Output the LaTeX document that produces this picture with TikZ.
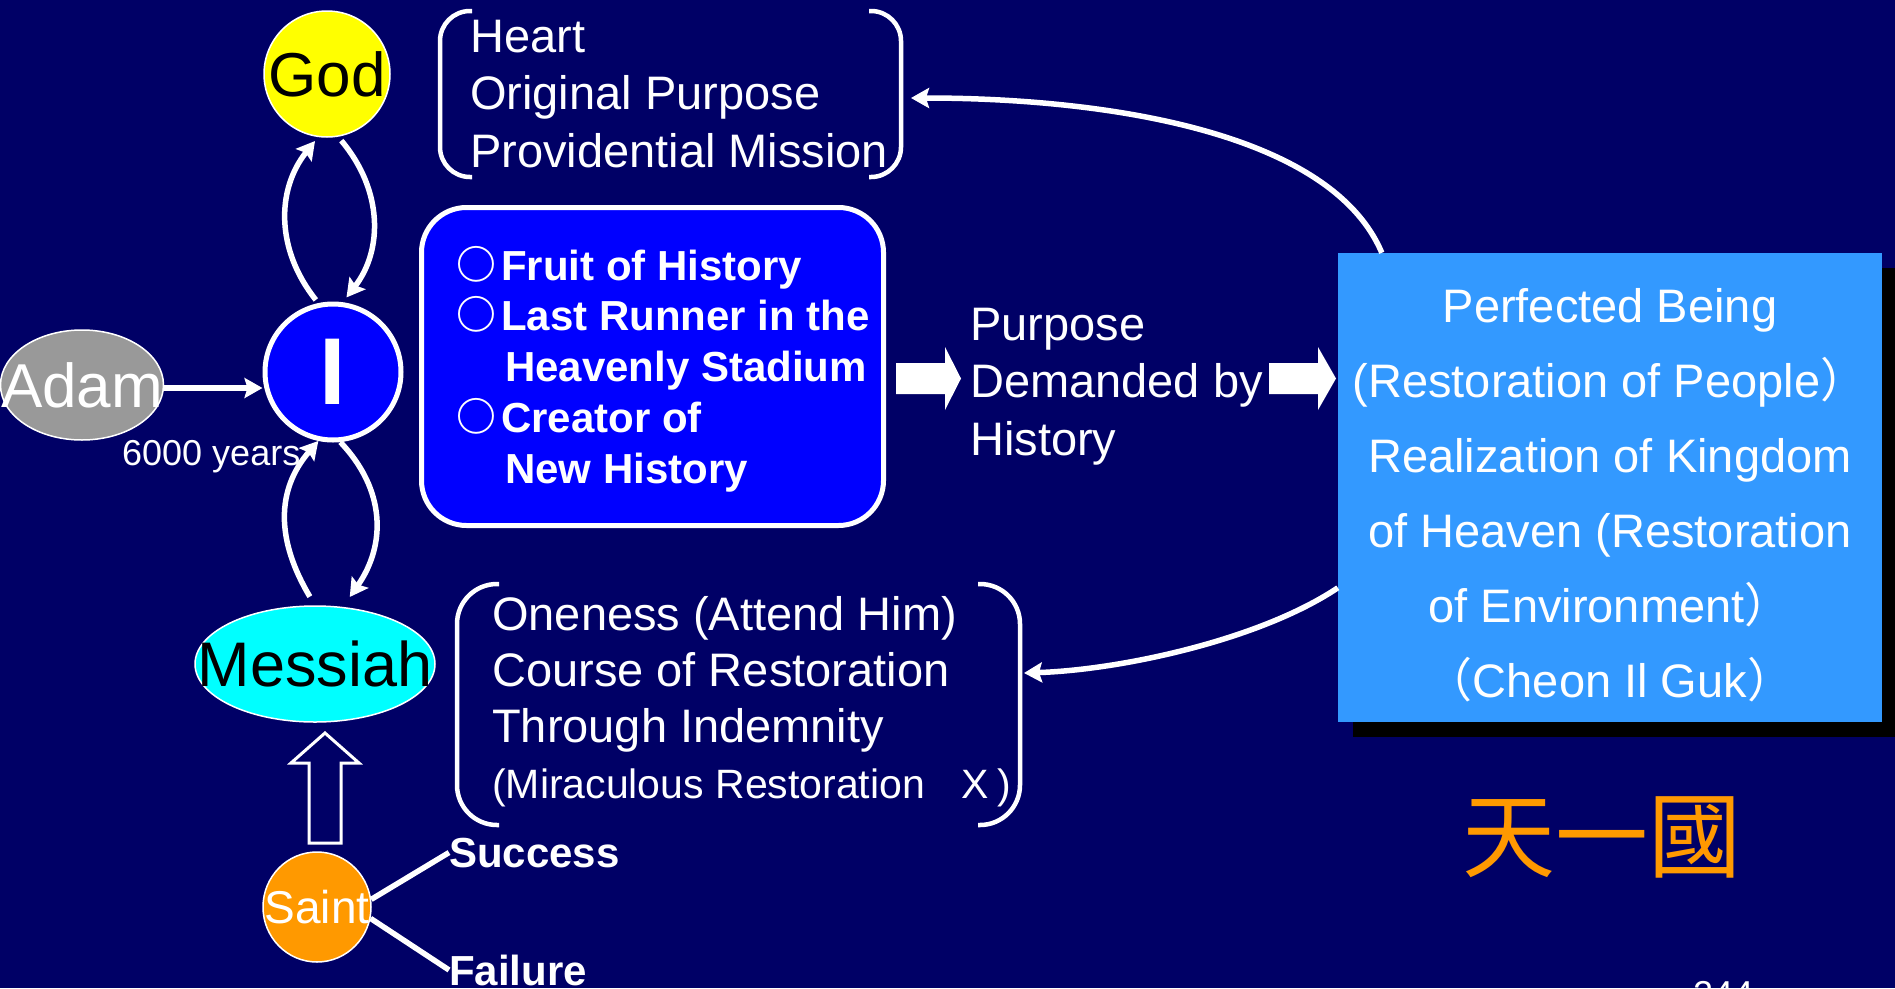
\documentclass[tikz,border=0pt]{standalone}
\usepackage{fontspec}
\setmainfont{Liberation Sans}
\newfontfamily\cjk{Noto Sans CJK TC}
\usetikzlibrary{arrows.meta,calc,shapes.geometric}
\definecolor{bg}{RGB}{0,0,102}
\definecolor{godyellow}{RGB}{255,255,0}
\definecolor{pureblue}{RGB}{0,0,255}
\definecolor{adamgray}{RGB}{153,153,153}
\definecolor{cyanfill}{RGB}{0,255,255}
\definecolor{orangefill}{RGB}{255,153,0}
\definecolor{goalblue}{RGB}{51,153,255}
\newcommand{\fsz}[2]{\fontsize{#1pt}{#2pt}\selectfont}
\newcommand{\hollowdot}{\makebox[43pt][l]{\hspace{-2pt}\raisebox{1pt}{\scalebox{0.95}{\cjk\bfseries ○}}}}
\begin{document}
\begin{tikzpicture}[x=1pt,y=-1pt,
  txt/.style={text=white,inner sep=0pt},
  wire/.style={draw=white,line width=5.5pt},
  arr/.style={wire,-{Stealth[length=18pt,width=20pt,inset=3pt]}},
  thinborder/.style={draw=white,line width=1.5pt},
  bracket/.style={draw=white,line width=4.5pt},
  fatarrow/.style={fill=white},
]
\fill[bg] (0,0) rectangle (1895,988);
\useasboundingbox (0,0) rectangle (1895,988);

% nodes
\node[circle,thinborder,fill=godyellow,minimum size=126pt,inner sep=0pt,
  label={[text=black,inner sep=0pt,font=\fsz{62}{62}]center:God}] (god) at (327,74) {};
\node[circle,draw=white,line width=5pt,fill=pureblue,minimum size=136pt,inner sep=0pt,
  font=\bfseries\fsz{95}{95},text=white] (I) at (333,372) {I};
\node[ellipse,thinborder,fill=adamgray,minimum width=163pt,minimum height=110pt,inner sep=0pt,
  label={[txt,font=\fsz{62}{62}]center:Adam}] (adam) at (82,385) {};
\node[ellipse,thinborder,fill=cyanfill,minimum width=240pt,minimum height=116pt,inner sep=0pt,
  label={[text=black,inner sep=0pt,font=\fsz{63}{63}]center:Messiah}] (messiah) at (315,664) {};
\node[ellipse,thinborder,fill=orangefill,minimum width=108pt,minimum height=110pt,inner sep=0pt,
  label={[txt,font=\fsz{46}{46}]center:Saint}] (saint) at (317,907) {};
\node[txt,font=\fsz{36}{36},anchor=base west] (years) at (122,465) {6000 years};

% history box
\node[rectangle,rounded corners=45pt,draw=white,line width=5pt,fill=pureblue,
  minimum width=462pt,minimum height=318pt,inner sep=0pt] (hist) at (652.5,366.5) {};
\node[txt,font=\bfseries\fsz{42}{50.75},align=left,anchor=base west] (histtext) at (458,483)
  {\hollowdot Fruit of History\\
   \hollowdot Last Runner in the\\
   \hspace{47pt}Heavenly Stadium\\
   \hollowdot Creator of\\
   \hspace{47pt}New History};

% purpose
\node[txt,font=\fsz{47}{57.5},align=left,anchor=base west] (purpose) at (970,455)
  {Purpose\\Demanded by\\History};
\fill[fatarrow] (896,363) -- (945,363) -- (945,347) -- (961,378.5) -- (945,410) -- (945,394) -- (896,394) -- cycle;
\fill[fatarrow] (1269,363) -- (1318,363) -- (1318,347) -- (1336,378.5) -- (1318,410) -- (1318,394) -- (1269,394) -- cycle;

% goal box
\node[rectangle,fill=goalblue,minimum width=544pt,minimum height=469pt,inner sep=0pt,
  preaction={fill=black,transform canvas={shift={(15pt,-15pt)}}}] (goal) at (1610,487.5) {};
\node[txt,font=\fsz{47}{75},align=center,anchor=base] (goaltext) at (1610,697)
  {Perfected Being\\(Restoration of People{\cjk ）}\\Realization of Kingdom\\of Heaven (Restoration\\of Environment{\cjk ）}\\{\cjk （}Cheon Il Guk{\cjk ）}};

% top bracket text
\node[txt,font=\fsz{47}{57.5},align=left,anchor=base west] (mission) at (470,167)
  {Heart\\Original Purpose\\Providential Mission};
\draw[bracket,rounded corners=30pt] (472,11) -- (440,11) -- (440,177) -- (472,177);
\draw[bracket,rounded corners=30pt] (869,11) -- (901,11) -- (901,177) -- (869,177);

% lower bracket text
\node[txt,font=\fsz{47}{56},align=left,anchor=base west] (course) at (492,798)
  {Oneness (Attend Him)\\Course of Restoration\\Through Indemnity\\{\fsz{41}{56}(Miraculous Restoration\hspace{36pt}X\hspace{9pt})}};
\draw[bracket,rounded corners=40pt] (499,584) -- (457,584) -- (457,825) -- (499,825);
\draw[bracket,rounded corners=40pt] (978,584) -- (1020,584) -- (1020,825) -- (978,825);

% saint labels
\node[txt,font=\bfseries\fsz{42}{42},anchor=base west] (success) at (449,867) {Success};
\node[txt,font=\bfseries\fsz{42}{42},anchor=base west] (failure) at (449,985) {Failure};

% chinese
\node[text=orangefill,font=\cjk\fsz{93}{93},inner sep=0pt] (tianyiguo) at (1602,837) {天一國};
\node[txt,font=\fsz{36}{36},anchor=north west] (pagenum) at (1693,981) {244};

% connectors
\draw[arr,shorten <=4pt,shorten >=5pt] (I.102) .. controls (276,250) and (276,190) .. (god.262);
\draw[arr,shorten <=5pt,shorten >=6pt] (god.280) .. controls (383,190) and (383,250) .. (I.82);
\draw[arr,shorten <=10pt] (messiah.north) .. controls (276,540) and (276,490) .. (I.258);
\draw[arr,shorten >=12pt] (I.276) .. controls (386,490) and (386,545) .. (messiah.64);
\draw[arr] ($(adam.east)+(0,3)$) -- ($(adam.east -| I.west)+(0,3)$);
\draw[wire] (saint.8) -- (success.west);
\draw[wire] (saint.-12) -- (failure.west);
\draw[white,line width=3pt,fill=bg] (309,843) -- (341,843) -- (341,763) -- (359,763) -- (325,733) -- (291,763) -- (309,763) -- cycle;

\coordinate (topin) at (911,98);
\coordinate (lowin) at (1024,673);
\draw[arr] ($(goal.north west)+(44,0)$) .. controls (1330,130) and (1100,98) .. (topin);
\draw[arr] ($(goal.north west)+(0,335)$) .. controls (1260,640) and (1120,670) .. (lowin);
\end{tikzpicture}
\end{document}
